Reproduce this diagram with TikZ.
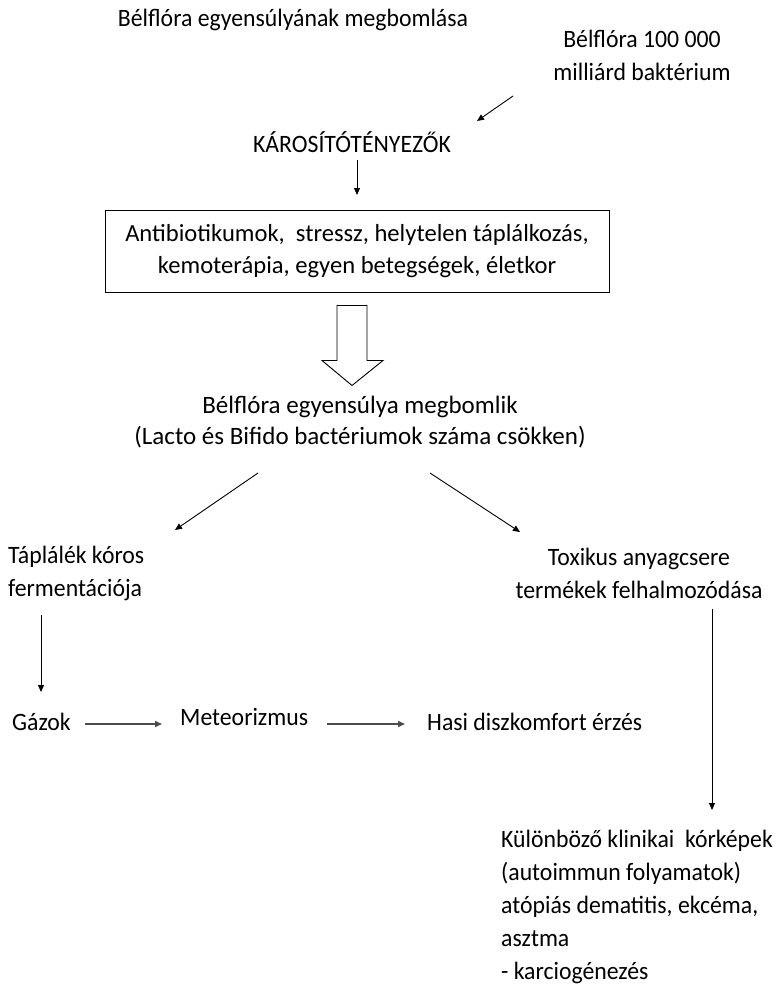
\documentclass[tikz,border=0pt]{standalone}
\usepackage{fontspec}
\setmainfont{Carlito}[FakeStretch=0.95]
\newfontfamily\widefont{Carlito}
\usetikzlibrary{arrows.meta}

\tikzset{
  txt/.style={inner sep=0pt, font=\fontsize{25}{33}\selectfont},
  widetxt/.style={inner sep=0pt, font=\widefont\fontsize{25}{31}\selectfont},
  arr/.style={-{Triangle[length=7pt,width=6pt]}, line width=0.9pt},
  grayarr/.style={-{Triangle[length=7pt,width=6pt]}, line width=1.6pt, draw=black!70, fill=black},
  framebox/.style={draw, line width=1pt, minimum width=504pt, minimum height=82pt,
    align=center, inner sep=0pt, font=\widefont\fontsize{24.6}{32}\selectfont},
  hollow/.style={draw, line width=0.9pt, fill=white}
}

\begin{document}
\begin{tikzpicture}[x=1pt,y=-1pt]
 \useasboundingbox (0,0) rectangle (776,990);
 % texts
 \node[txt] (title) at (293,20) {Bélflóra egyensúlyának megbomlása};
 \node[txt, align=center] (bact) at (642,55) {Bélflóra 100 000\\milliárd baktérium};
 \node[txt] (karos) at (352,142) {KÁROSÍTÓTÉNYEZŐK};
 \node[framebox] (box) at (357,251) {Antibiotikumok,\ \ stressz, helytelen táplálkozás,\\kemoterápia, egyen betegségek, életkor};
 \node[widetxt, align=center] (flora) at (360,422) {Bélflóra egyensúlya megbomlik\\(Lacto és Bifido bactériumok száma csökken)};
 \node[txt, align=left, anchor=west] (tapl) at (8,573) {Táplálék kóros\\fermentációja};
 \node[txt, align=center] (tox) at (639,573) {Toxikus anyagcsere\\termékek felhalmozódása};
 \node[txt, anchor=west] (gaz) at (12,722) {Gázok};
 \node[txt, anchor=west] (meteor) at (180,717) {Meteorizmus};
 \node[txt, anchor=west] (hasi) at (427,722) {Hasi diszkomfort érzés};
 \node[txt, align=left, anchor=west] (klin) at (501,907) {Különböző klinikai\ \ kórképek\\(autoimmun folyamatok)\\atópiás dematitis, ekcéma,\\asztma\\- karciogénezés};
 % arrows
 \draw[arr] ([shift={(-129,41)}]bact.center) -- ([shift={(125,-21)}]karos.center);
 \draw[arr] ([shift={(5,18)}]karos.center) -- ([shift={(0,-56)}]box.center);
 \begin{scope}[shift={(box.south)}]
  \draw[hollow] (-20,13) -- (10,13) -- (10,68) -- (26,68) -- (-5,93) -- (-35,68) -- (-20,68) -- cycle;
 \end{scope}
 \draw[arr] ([shift={(-102,51)}]flora.center) -- ([shift={(167,-43)}]tapl.west);
 \draw[arr] ([shift={(70,51)}]flora.center) -- ([shift={(-119,-41)}]tox.center);
 \draw[arr] ([shift={(33,42)}]tapl.west) -- ([shift={(29,-30)}]gaz.west);
 \draw[grayarr] ([shift={(73,2)}]gaz.west) -- ([shift={(-18,7)}]meteor.west);
 \draw[grayarr] ([shift={(147,7)}]meteor.west) -- ([shift={(-22,2)}]hasi.west);
 \draw[arr] ([shift={(73,36)}]tox.center) -- ([shift={(211,-97)}]klin.west);
\end{tikzpicture}
\end{document}
